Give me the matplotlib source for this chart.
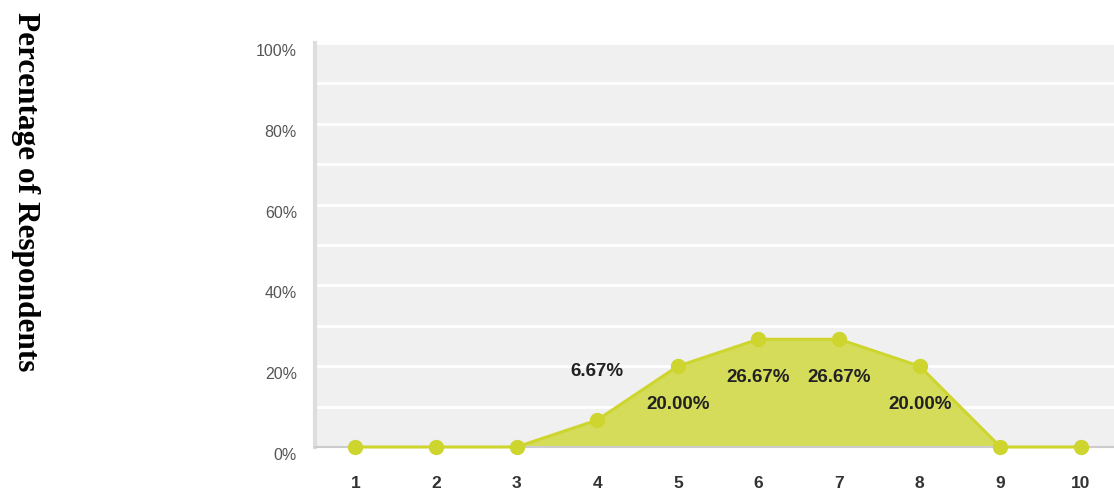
import matplotlib.pyplot as plt
import matplotlib.transforms as mtransforms

# Rating distribution
ratings = [1, 2, 3, 4, 5, 6, 7, 8, 9, 10]
percent = [0, 0, 0, 6.67, 20.00, 26.67, 26.67, 20.00, 0, 0]
label_above = [False, False, False, True, False, False, False, False, False, False]

sans = 'Liberation Sans'
line_color = '#cdd52e'
fill_color = '#d5dc5a'

fig = plt.figure(figsize=(11.14, 4.95), dpi=100)
ax = fig.add_axes([315 / 1114, 1 - 447 / 495, (1114 - 315) / 1114, (447 - 43) / 495])
ax.set_facecolor('#f0f0f0')

ax.fill_between(ratings, percent, 0, color=fill_color, zorder=2)
ax.plot(ratings, percent, color=line_color, lw=2.2, marker='o', ms=10, zorder=6, clip_on=False)

for x, y, up in zip(ratings, percent, label_above):
    if y == 0:
        continue
    dy = 49 if up else -38
    ax.annotate(f'{y:.2f}%', (x, y), xytext=(0, dy), textcoords='offset pixels',
                ha='center', va='center', fontsize=13.5, fontweight='bold',
                family=sans, color='#222222', zorder=7)

ax.set_xlim(0.5, 10.41)
ax.set_ylim(0, 100)
ax.set_yticks(range(0, 101, 20))
ax.set_yticks(range(10, 100, 20), minor=True)
ax.set_yticklabels([f'{v}%' for v in range(0, 101, 20)], family=sans, fontsize=11.5, color='#555555')
ax.set_xticks(ratings)
ax.set_xticklabels([str(r) for r in ratings], family=sans, fontsize=12.5,
                   fontweight='bold', color='#333333')
ax.grid(axis='y', which='both', color='white', lw=2, zorder=1)
ax.tick_params(axis='both', which='both', length=0)
ax.tick_params(axis='y', pad=13)
ax.tick_params(axis='x', pad=21)
# y labels sit a bit below their gridlines in the original
offset = mtransforms.ScaledTranslation(0, -7 / 100, fig.dpi_scale_trans)
for lab in ax.get_yticklabels():
    lab.set_transform(lab.get_transform() + offset)

for s in ['top', 'right']:
    ax.spines[s].set_visible(False)
ax.spines['left'].set_color('#dddddd')
ax.spines['left'].set_linewidth(3)
ax.spines['bottom'].set_color('#cccccc')
ax.spines['bottom'].set_linewidth(1.5)
ax.spines['bottom'].set_zorder(5)

fig.text(25 / 1114, 1 - 192 / 495, 'Percentage of Respondents', rotation=270,
         ha='center', va='center', family='Liberation Serif', fontweight='bold',
         fontsize=22.5)

fig.savefig('out.png', dpi=100)
